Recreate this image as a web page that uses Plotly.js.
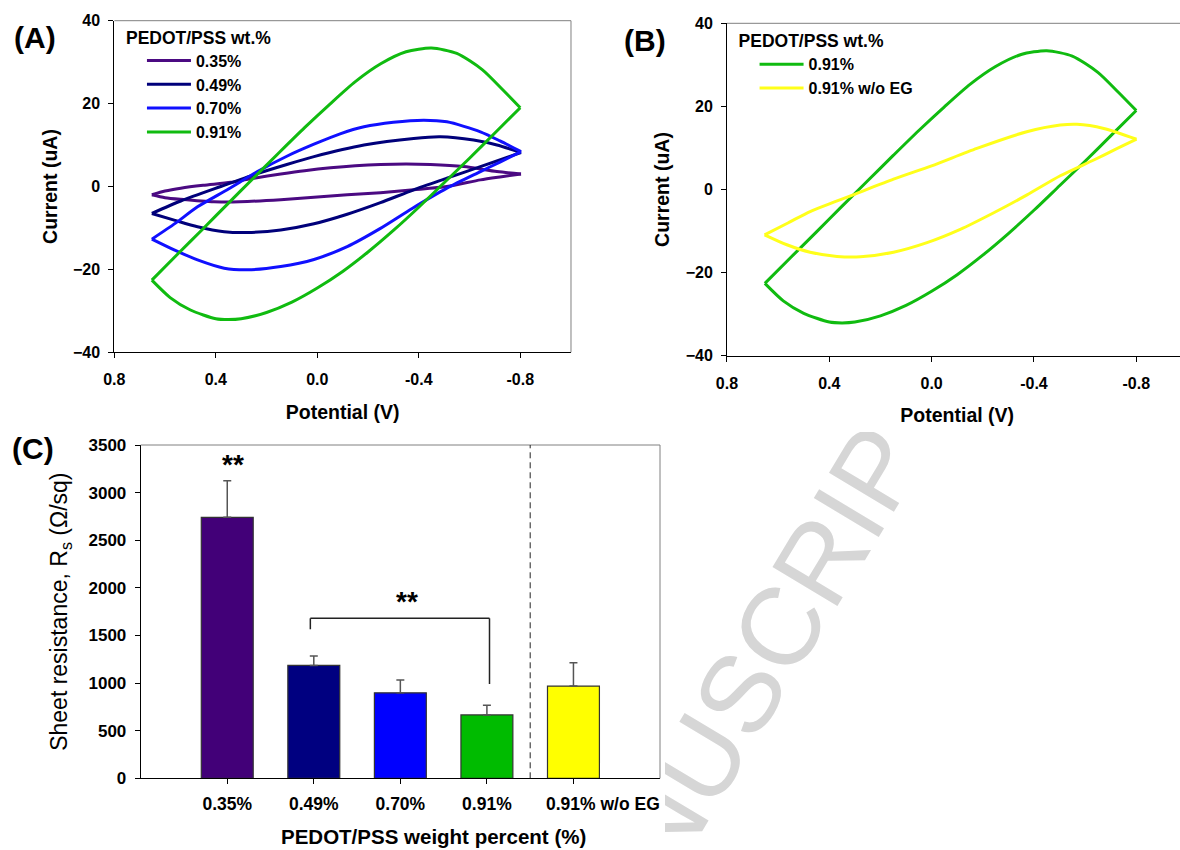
<!DOCTYPE html>
<html>
<head>
<meta charset="utf-8">
<script src="https://cdn.plot.ly/plotly-3.0.1.min.js"></script>
<style>
html,body{margin:0;padding:0;background:#fff;overflow:hidden;width:1180px;height:850px;}
#chart{position:absolute;left:0;top:0;width:1200px;height:850px;z-index:1;}
#wm{position:absolute;left:665px;top:432px;width:515px;height:418px;overflow:hidden;z-index:2;pointer-events:none;}
#wm span{position:absolute;left:-85px;top:529px;transform:translate(-50%,-50%) rotate(-59deg);white-space:nowrap;font-family:'Liberation Sans',Arial,sans-serif;font-size:110px;color:#d6d6d6;line-height:1.15;}
</style>
</head>
<body>
<div id="chart"></div>
<div id="wm"><span>ACCEPTED MANUSCRIPT</span></div>
<script>
// ---------- Data ----------
// Panel A / B : cyclic voltammograms, potential (V) vs current (uA)
const cv035V = [0.652,0.60,0.538,0.45,0.341,0.25,0.144,0.05,-0.052,-0.15,-0.249,-0.35,-0.446,-0.577,-0.708,-0.803,
                -0.72,-0.643,-0.511,-0.38,-0.249,-0.118,0.013,0.144,0.275,0.407,0.538,0.60,0.652];
const cv035I = [-2.0,-1.1,-0.4,0.3,1.0,2.0,3.0,3.8,4.5,5.0,5.3,5.4,5.3,4.8,3.6,3.0,
                2.3,1.6,0.0,-0.8,-1.5,-2.0,-2.6,-3.2,-3.6,-3.7,-3.1,-2.7,-2.0];

const cv049V = [0.652,0.538,0.38,0.236,0.12,0.013,-0.184,-0.38,-0.485,-0.616,-0.708,-0.803,
                -0.643,-0.511,-0.38,-0.249,-0.118,0.013,0.144,0.275,0.367,0.472,0.564,0.652];
const cv049I = [-6.5,-3.5,0.0,3.1,5.3,7.2,10.0,11.6,12.0,11.2,10.0,8.2,
                4.8,2.0,-0.8,-3.9,-6.7,-9.0,-10.5,-11.1,-10.9,-9.7,-8.1,-6.5];

const cv070V = [0.652,0.56,0.472,0.35,0.236,0.12,0.013,-0.09,-0.184,-0.30,-0.42,-0.511,-0.643,-0.72,-0.803,
                -0.72,-0.643,-0.511,-0.374,-0.249,-0.118,0.013,0.144,0.275,0.367,0.472,0.564,0.652];
const cv070I = [-12.7,-8.9,-4.9,-0.6,3.6,7.3,10.2,12.7,14.4,15.5,16.0,15.6,13.2,11.0,8.4,
                5.9,3.6,-0.4,-5.3,-10.1,-14.5,-17.6,-19.3,-20.1,-19.7,-17.7,-15.3,-12.7];

const cv091V = [0.652,0.55,0.45,0.35,0.25,0.15,0.05,-0.05,-0.15,-0.25,-0.35,-0.45,-0.55,-0.65,-0.73,-0.80,
                -0.70,-0.60,-0.50,-0.40,-0.30,-0.20,-0.10,0.00,0.10,0.20,0.30,0.35,0.40,0.50,0.58,0.652];
const cv091I = [-22.6,-16.3,-10.2,-4.0,2.1,8.2,14.2,19.9,25.3,29.6,32.5,33.4,32.1,28.2,23.4,19.0,
                12.9,6.8,0.9,-5.0,-10.6,-15.8,-20.5,-24.5,-27.9,-30.4,-31.9,-32.1,-31.9,-29.8,-26.8,-22.6];

const cv091noEGV = [0.653,0.56,0.475,0.38,0.299,0.149,0.0,-0.177,-0.372,-0.503,-0.568,-0.673,-0.801,
                    -0.72,-0.634,-0.503,-0.373,-0.243,-0.112,0.018,0.149,0.279,0.37,0.475,0.566,0.653];
const cv091noEGI = [-10.9,-8.0,-5.3,-3.0,-1.1,2.5,5.7,9.9,13.9,15.5,15.7,14.7,12.1,
                    9.7,7.1,3.3,-1.3,-5.6,-9.6,-12.8,-15.1,-16.2,-16.1,-15.1,-13.3,-10.9];

const potTickVals = [0.8,0.4,0.0,-0.4,-0.8];
const potTickText = ['0.8','0.4','0.0','-0.4','-0.8'];
const curTickVals = [-40,-20,0,20,40];

// Panel C : sheet resistance (ohm/sq)
const rsCategories = ['0.35%','0.49%','0.70%','0.91%','0.91% w/o EG'];
const rsValues     = [2740,1185,898,666,968];
const rsErrors     = [385,98,133,101,245];
const rsColors     = ['#420078','#000080','#0000FF','#00BB00','#FFFF00'];

// ---------- Styling ----------
const F = 'Liberation Sans, Arial, sans-serif';
const black = '#000';
const tickFontCV = {family:F,size:16,color:black,weight:700};
const titleFontCV = {family:F,size:19.5,color:black,weight:700};
const lastLabelShift = 0.34;   // the last category label of panel C sits right of its bar

// a CV loop is drawn as forward and reverse scans (split at the negative vertex), smoothed
function cvTraces(V,I,name,color,xa,ya,leg){
  let k = 0;
  V.forEach((v,i)=>{ if(v < V[k]) k = i; });
  const common = {type:'scatter',mode:'lines',xaxis:xa,yaxis:ya,legend:leg,legendgroup:leg+name,name:name,
                  line:{color:color,width:3,shape:'spline',smoothing:0.7},hoverinfo:'skip'};
  return [
    Object.assign({}, common, {x:V.slice(0,k+1), y:I.slice(0,k+1), showlegend:true}),
    Object.assign({}, common, {x:V.slice(k), y:I.slice(k), showlegend:false})
  ];
}

const rsLabelPos = rsCategories.map((c,i)=> i === rsCategories.length-1 ? i + lastLabelShift : i);

const traces = [].concat(
  cvTraces(cv035V,cv035I,'0.35%','#4B0A82','x','y','legend'),
  cvTraces(cv049V,cv049I,'0.49%','#00007A','x','y','legend'),
  cvTraces(cv070V,cv070I,'0.70%','#1010FF','x','y','legend'),
  cvTraces(cv091V,cv091I,'0.91%','#10BB10','x','y','legend'),
  cvTraces(cv091V,cv091I,'0.91%','#10BB10','x2','y2','legend2'),
  cvTraces(cv091noEGV,cv091noEGI,'0.91% w/o EG','#FFFF1A','x2','y2','legend2'),
  [{type:'bar',x:rsCategories,y:rsValues,xaxis:'x3',yaxis:'y3',showlegend:false,width:0.6,
   marker:{color:rsColors,line:{color:'#333',width:1.2}},
   error_y:{type:'data',symmetric:false,array:rsErrors,arrayminus:rsErrors.map(()=>0),
            color:'#555',thickness:1.5,width:4},
   hoverinfo:'skip'},
   // empty trace that registers the label axis of panel C
   {type:'scatter',mode:'none',x:[],y:[],xaxis:'x4',yaxis:'y3',showlegend:false,hoverinfo:'skip'}]
);

function cvX(dom,anchor){
  return {domain:dom,anchor:anchor,range:[0.8,-1.0],tickmode:'array',tickvals:potTickVals,ticktext:potTickText,
    ticks:'outside',ticklen:5,tickwidth:1,tickcolor:black,showline:true,linecolor:black,linewidth:1,
    showgrid:false,zeroline:false,tickfont:tickFontCV,ticklabelstandoff:8,tickangle:0,
    title:{text:'Potential (V)',font:titleFontCV,standoff:17}};
}
function cvY(dom,anchor){
  return {domain:dom,anchor:anchor,range:[-40,40],tickmode:'array',tickvals:curTickVals,
    ticks:'outside',ticklen:5,tickwidth:1,tickcolor:black,showline:true,linecolor:black,linewidth:1,
    showgrid:false,zeroline:false,tickfont:tickFontCV,ticklabelstandoff:5,
    title:{text:'Current (uA)',font:titleFontCV,standoff:10}};
}

const frameGray = {color:'#808080',width:1};
function frame(xr,yr){
  return [
    {type:'line',xref:xr,yref:yr,x0:0,x1:1,y0:1,y1:1,line:frameGray},
    {type:'line',xref:xr,yref:yr,x0:1,x1:1,y0:0,y1:1,line:frameGray}
  ];
}

// significance bracket between 0.49% and 0.91%
const sig = {xLeft:0.96,xRight:3.03,yTop:1680,yLeftEnd:1565,yRightEnd:990};
const bracketLine = {color:'#222',width:1.5};

function legendCfg(x,y){
  return {x:x,y:y,xanchor:'left',yanchor:'top',bgcolor:'rgba(0,0,0,0)',borderwidth:0,
    font:{family:F,size:16,color:black,weight:700},traceorder:'normal',tracegroupgap:0,
    itemwidth:44,indentation:18,
    title:{text:'PEDOT/PSS wt.%',font:{family:F,size:17.5,color:black,weight:700}}};
}

const domC = [0.11725,0.55];

const layout = {
  width:1200,height:850,autosize:false,
  margin:{l:0,r:0,t:0,b:0},
  paper_bgcolor:'#fff',plot_bgcolor:'rgba(0,0,0,0)',
  font:{family:F,color:black},
  showlegend:true,
  xaxis:cvX([0.09525,0.47583],'y'),
  yaxis:cvY([0.58553,0.97565],'x'),
  xaxis2:cvX([0.60583,0.9895],'y2'),
  yaxis2:cvY([0.58153,0.97259],'x2'),
  // category axis: bars + tick marks
  xaxis3:{domain:domC,anchor:'y3',type:'category',range:[-1,5],
    tickmode:'array',tickvals:rsCategories,showticklabels:false,
    ticks:'outside',ticklen:5,tickwidth:1,tickcolor:black,showline:true,linecolor:black,linewidth:1,
    showgrid:false,zeroline:false},
  // overlay axis carrying the category labels
  xaxis4:{domain:domC,anchor:'y3',overlaying:'x3',type:'linear',range:[-1,5],
    tickmode:'array',tickvals:rsLabelPos,ticktext:rsCategories,tickangle:0,
    ticks:'',showline:false,showgrid:false,zeroline:false,
    tickfont:{family:F,size:17.5,color:black,weight:700},ticklabelstandoff:13},
  yaxis3:{domain:[0.08435,0.47647],anchor:'x3',range:[0,3500],tick0:0,dtick:500,
    ticks:'outside',ticklen:5,tickwidth:1,tickcolor:black,showline:true,linecolor:black,linewidth:1,
    showgrid:false,zeroline:false,tickfont:{family:F,size:17,color:black,weight:700},ticklabelstandoff:5,
    title:{text:'Sheet resistance, R<sub>s</sub> (\u03A9/sq)',font:{family:F,size:23,color:black,weight:400},standoff:14}},
  legend:legendCfg(0.1033,0.9755),
  legend2:legendCfg(0.6138,0.9711),
  shapes:[].concat(
    frame('x domain','y domain'),
    frame('x2 domain','y2 domain'),
    frame('x3 domain','y3 domain'),
    [
      {type:'line',xref:'x3',yref:'y3 domain',x0:3.5,x1:3.5,y0:0,y1:1,line:{color:'#222',width:1,dash:'6px,4px'}},
      {type:'line',xref:'x3',yref:'y3',x0:sig.xLeft,x1:sig.xLeft,y0:sig.yLeftEnd,y1:sig.yTop,line:bracketLine},
      {type:'line',xref:'x3',yref:'y3',x0:sig.xLeft,x1:sig.xRight,y0:sig.yTop,y1:sig.yTop,line:bracketLine},
      {type:'line',xref:'x3',yref:'y3',x0:sig.xRight,x1:sig.xRight,y0:sig.yTop,y1:sig.yRightEnd,line:bracketLine}
    ]
  ),
  annotations:[
    {text:'(A)',xref:'paper',yref:'paper',x:34.5/1200,y:1-37/850,xanchor:'center',yanchor:'middle',showarrow:false,
     font:{family:F,size:30,color:black,weight:700}},
    {text:'(B)',xref:'paper',yref:'paper',x:645/1200,y:1-41/850,xanchor:'center',yanchor:'middle',showarrow:false,
     font:{family:F,size:30,color:black,weight:700}},
    {text:'(C)',xref:'paper',yref:'paper',x:33/1200,y:1-448/850,xanchor:'center',yanchor:'middle',showarrow:false,
     font:{family:F,size:30,color:black,weight:700}},
    {text:'**',xref:'x3',yref:'y3',x:0.07,y:3300,showarrow:false,font:{family:F,size:28,color:black,weight:700}},
    {text:'**',xref:'x3',yref:'y3',x:2.08,y:1860,showarrow:false,font:{family:F,size:28,color:black,weight:700}},
    {text:'PEDOT/PSS weight percent (%)',xref:'paper',yref:'paper',x:433/1200,y:1-836/850,
     xanchor:'center',yanchor:'middle',showarrow:false,font:{family:F,size:20.5,color:black,weight:700}}
  ]
};

Plotly.newPlot('chart',traces,layout,{staticPlot:true,displayModeBar:false});
</script>
</body>
</html>
